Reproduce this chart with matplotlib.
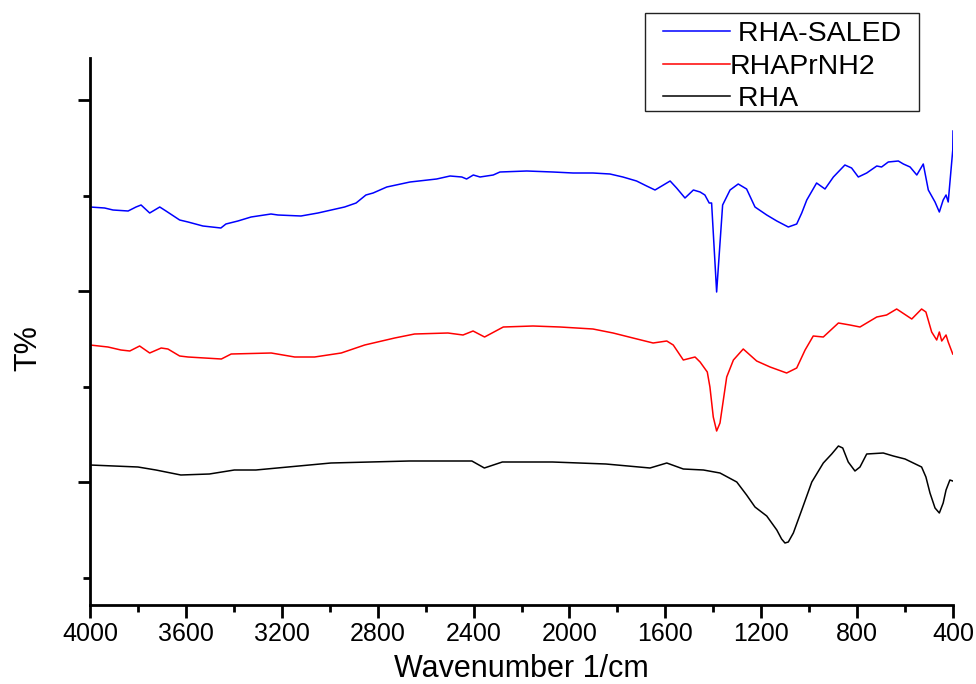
import numpy as np
import matplotlib.pyplot as plt
from matplotlib.patches import Rectangle
from matplotlib.ticker import FixedLocator

plt.rcParams['font.family'] = ['Liberation Sans', 'DejaVu Sans']

# wavenumber (1/cm) and transmittance (arbitrary offset units)
saled_wn = [4000, 3939, 3904, 3841, 3808, 3787, 3751, 3709, 3683, 3626, 3591, 3529, 3454,
            3433, 3383, 3328, 3245, 3216, 3120, 3049, 2938, 2890, 2849, 2819, 2762, 2665,
            2554, 2498, 2449, 2429, 2401, 2373, 2318, 2290, 2178, 2069, 1985, 1902, 1831,
            1777, 1720, 1678, 1643, 1580, 1553, 1518, 1483, 1455, 1435, 1417, 1407, 1386,
            1361, 1330, 1296, 1261, 1226, 1177, 1135, 1087, 1052, 1031, 1010, 969, 934,
            899, 851, 823, 795, 760, 718, 698, 670, 628, 607, 579, 551, 524, 503, 475,
            457, 441, 429, 420, 401, 400]
saled_t = [393, 392, 390, 389, 393, 395, 387, 393, 389, 380, 378, 374, 372,
           376, 379, 383, 386, 385, 384, 387, 393, 397, 405, 407, 413, 418,
           421, 424, 423, 421, 425, 423, 425, 428, 429, 428, 427, 427, 426,
           423, 419, 414, 410, 419, 412, 402, 410, 408, 405, 397, 397, 308,
           395, 410, 416, 411, 393, 385, 379, 373, 376, 387, 400, 417, 411,
           423, 435, 432, 423, 427, 434, 433, 438, 439, 436, 433, 425, 436, 410, 398,
           388, 400, 405, 398, 450, 469]

prnh2_wn = [4000, 3925, 3871, 3834, 3793, 3751, 3703, 3675, 3626, 3591, 3522, 3452, 3411,
            3244, 3146, 3063, 2952, 2854, 2729, 2646, 2507, 2444, 2402, 2354, 2276, 2152,
            2039, 1902, 1818, 1735, 1651, 1594, 1567, 1525, 1476, 1455, 1425, 1414, 1400,
            1386, 1372, 1358, 1344, 1316, 1275, 1219, 1163, 1094, 1052, 1017, 983, 941,
            878, 830, 788, 760, 718, 677, 635, 572, 531, 513, 489, 468, 457, 447, 429,
            420, 401]
prnh2_t = [255, 253, 250, 249, 254, 247, 252, 251, 244, 243, 242, 241, 246,
           247, 243, 243, 247, 255, 262, 266, 267, 265, 269, 263, 273, 274,
           273, 271, 267, 262, 257, 259, 255, 240, 243, 238, 228, 213, 183,
           169, 177, 200, 223, 240, 251, 239, 233, 227, 232, 250, 264, 263,
           277, 275, 273, 277, 283, 285, 291, 281, 291, 288, 268, 260, 268, 259, 265,
           258, 246]

rha_wn = [4000, 3800, 3725, 3621, 3502, 3398, 3308, 3174, 2995, 2668, 2407, 2355, 2280,
          2071, 1848, 1664, 1594, 1525, 1441, 1372, 1302, 1261, 1226, 1177, 1135, 1115,
          1101, 1087, 1066, 1031, 989, 941, 906, 878, 860, 837, 809, 788, 760, 691,
          649, 600, 531, 513, 496, 475, 457, 441, 429, 413, 401]
rha_t = [135, 133, 130, 125, 126, 130, 130, 133, 137, 139, 139, 132, 138,
         138, 136, 132, 137, 131, 130, 127, 118, 105, 93, 84, 70, 61,
         57, 58, 67, 90, 118, 137, 146, 154, 152, 138, 129, 133, 146, 147,
         144, 141, 133, 123, 107, 92, 87, 97, 110, 120, 119]

fig = plt.figure(figsize=(9.76, 6.84), dpi=100)
ax = fig.add_axes([90 / 976, 79 / 684, 863 / 976, 547 / 684])

ax.plot(saled_wn, saled_t, color='#0000ff', lw=1.1, label=' RHA-SALED')
ax.plot(prnh2_wn, prnh2_t, color='#ff0000', lw=1.1, label='RHAPrNH2')
ax.plot(rha_wn, rha_t, color='black', lw=1.1, label=' RHA')

ax.set_xlim(4000, 400)
ax.set_ylim(-5, 542)
ax.set_xticks(np.arange(4000, 399, -400))
ax.xaxis.set_minor_locator(FixedLocator(np.arange(3800, 400, -400)))
ax.yaxis.set_major_locator(FixedLocator([118, 309, 500]))
ax.yaxis.set_minor_locator(FixedLocator([22, 213.5, 404.5]))
ax.set_yticklabels([])

for s in ['top', 'right']:
    ax.spines[s].set_visible(False)
for s in ['left', 'bottom']:
    ax.spines[s].set_linewidth(2)

ax.tick_params(which='major', direction='out', length=9, width=2, labelsize=18, pad=3)
ax.tick_params(which='minor', direction='out', length=5, width=2)

ax.set_xlabel('Wavenumber 1/cm', fontsize=22, labelpad=6)
ax.set_ylabel('T%', fontsize=22)
ax.yaxis.set_label_coords(-0.054, 0.47)

# legend content without frame, frame drawn separately
leg = ax.legend(loc='upper left', bbox_to_anchor=(663 / 976, 1 - 21 / 684),
                bbox_transform=fig.transFigure, fontsize=20.5, frameon=False,
                handlelength=2.35, handletextpad=0.0, labelspacing=0.23,
                borderpad=0, borderaxespad=0)
fig.patches.append(Rectangle((645 / 976, 1 - 111 / 684), 274 / 976, 98 / 684,
                             transform=fig.transFigure, fill=False,
                             lw=1.0, ec='#222222'))

fig.savefig('out.png', dpi=100)
